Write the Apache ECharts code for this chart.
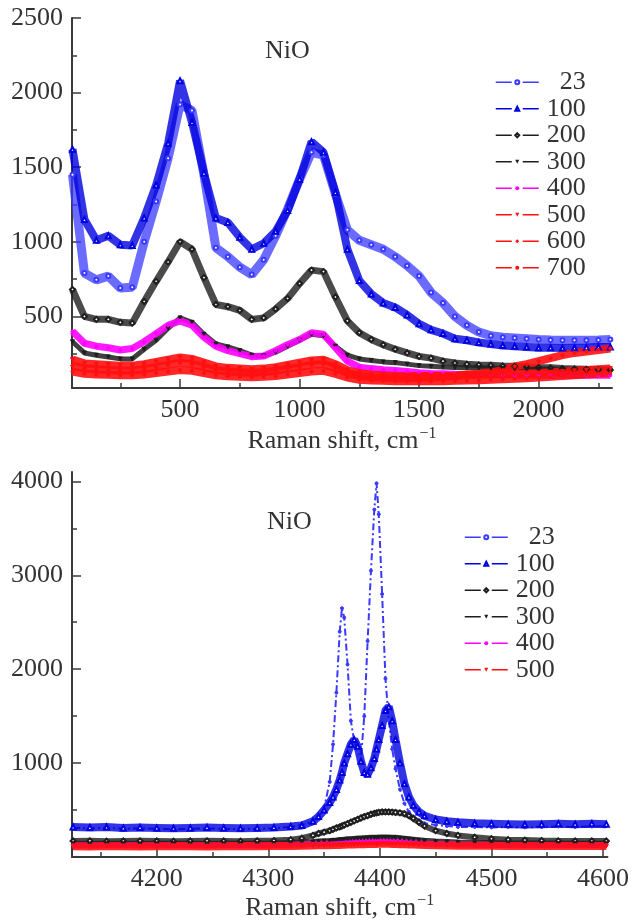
<!DOCTYPE html>
<html><head><meta charset="utf-8">
<script src="https://cdn.jsdelivr.net/npm/echarts@6/dist/echarts.min.js"></script>
<style>html,body{margin:0;padding:0;background:#fff}#c{width:632px;height:924px}</style>
</head><body><div id="c"></div>
<script>
// ---------- data ----------
const topNames = ['23','100','200','300','400','500','600','700'];
const botNames = ['23','100','200','300','400','500'];
const topX = [50,100,150,200,250,300,350,400,450,500,550,600,650,700,750,800,850,900,950,1000,1050,1100,1150,1200,1250,1300,1350,1400,1450,1500,1550,1600,1650,1700,1750,1800,1850,1900,1950,2000,2050,2100,2150,2200,2250,2300];
const t23  = [1450,790,745,770,690,695,1000,1270,1560,1920,1880,1450,960,900,830,780,880,1040,1220,1420,1600,1580,1320,1080,1010,980,950,900,840,770,660,590,500,440,395,370,360,355,350,345,342,340,340,340,342,345];
const t100 = [1620,1150,1010,1040,980,975,1160,1380,1660,2080,1800,1460,1160,1130,1030,950,990,1070,1210,1420,1670,1600,1330,950,740,650,590,560,510,450,410,385,350,340,325,315,305,300,295,290,290,288,290,292,295,295];
const t200 = [680,500,480,480,460,455,600,735,865,1000,950,760,580,565,540,480,490,550,620,720,810,800,630,470,390,345,310,280,255,232,220,200,188,180,175,172,168,165,160,157,155,150,148,145,143,140];
const t300 = [330,255,240,228,215,215,280,340,420,490,460,380,315,295,270,240,235,260,300,340,380,370,300,240,215,205,195,190,180,170,165,160,158,156,155,153,152,150,148,147,146,145,144,143,142,140];
const t400 = [400,320,300,290,275,285,330,385,440,470,440,360,300,270,250,230,235,270,310,345,390,380,290,200,160,150,142,138,130,122,118,115,112,110,110,108,108,107,106,106,105,105,105,105,105,105];
const t500 = [210,185,180,175,170,170,180,195,210,225,215,190,165,155,150,145,150,160,175,190,205,210,180,140,120,110,105,100,100,100,100,100,102,105,108,110,112,115,118,120,125,130,135,140,145,150];
const t600 = [170,150,145,140,138,138,145,160,175,190,180,160,140,130,125,122,125,135,150,160,175,180,155,120,100,92,88,85,85,88,90,95,100,110,115,125,140,165,180,200,220,240,255,265,275,285];
const t700 = [130,115,110,108,105,105,110,120,130,140,135,120,105,98,95,92,95,100,110,120,130,135,115,90,75,70,68,66,65,65,65,66,68,70,72,75,78,82,86,90,95,100,105,110,115,120];

const botX = [4125,4140,4155,4170,4185,4200,4215,4230,4245,4260,4275,4290,4305,4320,4330,4340,4345,4350,4355,4358,4361,4364,4366,4368,4371,4374,4377,4380,4383,4386,4389,4392,4395,4397,4399,4402,4405,4408,4411,4414,4418,4422,4426,4430,4435,4440,4450,4460,4470,4485,4500,4515,4530,4545,4560,4575,4590,4603];
const b23  = [310,305,310,300,305,300,295,300,305,300,295,300,305,320,340,380,430,520,800,1200,1750,2400,2650,2550,2050,1450,1230,1120,1050,1500,2300,3050,3700,3980,3650,2800,1900,1450,1150,940,720,570,480,430,390,360,340,330,320,320,315,320,315,320,325,320,325,330];
const b100 = [320,315,320,310,315,310,305,310,315,310,305,310,315,325,335,380,430,500,580,640,720,820,900,1000,1100,1200,1250,1180,1020,900,880,950,1050,1150,1250,1400,1560,1600,1450,1250,1000,780,640,550,480,440,400,380,370,360,355,350,345,350,355,350,355,350];
const b200 = [170,172,168,170,172,170,168,170,172,170,168,172,175,185,200,230,250,265,280,295,310,320,330,340,355,370,385,400,415,430,440,455,465,470,475,480,480,480,478,475,470,460,440,410,370,330,280,250,230,210,195,185,180,175,172,170,170,170];
const b300 = [140,138,142,140,138,140,142,140,138,140,142,140,142,148,155,160,165,168,170,173,176,180,182,185,188,190,193,196,198,200,202,204,205,206,207,208,208,207,206,204,200,195,190,185,178,172,165,160,155,150,148,145,145,143,142,142,140,140];
const b400 = [125,122,126,124,122,125,126,124,122,125,126,124,126,130,134,138,140,142,144,146,148,150,152,154,155,157,158,160,161,162,163,164,165,165,166,166,166,165,164,162,160,157,154,150,146,142,138,135,132,130,128,127,126,126,125,125,124,125];
const b500 = [115,112,116,114,112,115,116,114,112,115,116,114,116,118,120,122,124,125,126,127,128,129,130,131,132,133,134,135,136,137,138,138,139,139,140,140,140,140,139,138,137,136,134,132,130,128,125,123,121,120,119,118,117,117,118,117,118,118];

const topXLabels = [500,1000,1500,2000];
const topXMinor  = [250,750,1250,1750,2250];
const topYLabels = [500,1000,1500,2000,2500];
const topYMinor  = [250,750,1250,1750,2250];
const botXLabels = [4200,4300,4400,4500,4600];
const botXMinor  = [4150,4250,4350,4450,4550];
const botYLabels = [1000,2000,3000,4000];
const botYMinor  = [500,1500,2500,3500];

// ---------- style ----------
const FF = "'Liberation Serif', 'Times New Roman', 'DejaVu Serif', serif";
const TXT = '#333';
const AX = '#3a3a3a';

function mainAxis(grid, min, max, labels, isY, extra) {
  return Object.assign({
    type: 'value', gridIndex: grid, min: min, max: max,
    position: isY ? 'left' : 'bottom',
    axisLine: {show: true, onZero: false, lineStyle: {color: AX, width: 2}},
    axisTick: {show: true, inside: true, length: 9, customValues: labels, lineStyle: {color: AX, width: 1.5}},
    axisLabel: {show: true, customValues: labels, formatter: v => String(v), fontFamily: FF, fontSize: 26, color: TXT, margin: 9},
    splitLine: {show: false}
  }, extra || {});
}
function minorAxis(grid, min, max, vals, isY) {
  return {
    type: 'value', gridIndex: grid, min: min, max: max,
    position: isY ? 'left' : 'bottom',
    axisLine: {show: false, onZero: false},
    axisTick: {show: true, inside: true, length: 5, customValues: vals, lineStyle: {color: AX, width: 1.5}},
    axisLabel: {show: false},
    splitLine: {show: false}
  };
}
const axisNameStyle = {
  fontFamily: FF, fontSize: 26, color: TXT, lineHeight: 30,
  rich: {sup: {fontFamily: FF, fontSize: 16, color: TXT, lineHeight: 16, verticalAlign: 'top', padding: [0,0,0,1]}}
};
const xName = 'Raman shift, cm{sup|\u22121}';

function ser(name, xs, ys, xi, yi, color, symbol, rot, width, dash, size, op) {
  return {
    type: 'line', name: name, xAxisIndex: xi, yAxisIndex: yi,
    data: xs.map((x, i) => [x, ys[i]]),
    symbol: symbol, symbolSize: size || 4, symbolRotate: rot,
    showSymbol: true, showAllSymbol: true,
    lineStyle: {color: color, width: width, type: dash || 'solid', opacity: op || 0.85},
    itemStyle: {color: color, borderColor: color},
    emphasis: {disabled: true},
    animation: false
  };
}

const C23 = '#3a3aff', C100 = '#0000e0', CBK = '#1e1e1e', CMG = '#ff00ff', CRD = '#ff0f0f';

const legendCommon = {
  orient: 'vertical', itemWidth: 43, itemHeight: 5, itemGap: 0,
  formatter: n => '{r|' + n + '}',
  textStyle: {fontFamily: FF, fontSize: 26, color: TXT, lineHeight: 26.5,
    rich: {r: {fontFamily: FF, fontSize: 26, color: TXT, width: 42, align: 'right', lineHeight: 26.5}}},
  lineStyle: {width: 1.5, type: [16, 11], opacity: 1},
  selectedMode: false
};

const option = {
  backgroundColor: '#fff',
  animation: false,
  grid: [
    {left: 72, top: 18, width: 540, height: 370},
    {left: 72, top: 472, width: 538, height: 386}
  ],
  xAxis: [
    mainAxis(0, 48, 2307, topXLabels, false, {name: xName, nameLocation: 'middle', nameGap: 38, nameTextStyle: axisNameStyle}),
    minorAxis(0, 48, 2307, topXMinor, false),
    mainAxis(1, 4124, 4604, botXLabels, false, {name: xName, nameLocation: 'middle', nameGap: 36, nameTextStyle: axisNameStyle}),
    minorAxis(1, 4124, 4604, botXMinor, false)
  ],
  yAxis: [
    mainAxis(0, 20, 2500, topYLabels, true),
    minorAxis(0, 20, 2500, topYMinor, true),
    mainAxis(1, 0, 4100, botYLabels, true),
    minorAxis(1, 0, 4100, botYMinor, true)
  ],
  legend: [
    Object.assign({}, legendCommon, {left: 490, top: 64, data: topNames}),
    Object.assign({}, legendCommon, {left: 459, top: 519, data: botNames})
  ],
  graphic: [
    {type: 'text', left: 265, top: 38, style: {text: 'NiO', fontFamily: FF, fontSize: 26, fill: TXT}},
    {type: 'text', left: 267, top: 509, style: {text: 'NiO', fontFamily: FF, fontSize: 26, fill: TXT}}
  ],
  series: [
    ser('23', topX, t23, 0, 0, C23, 'emptyCircle', 0, 9, 'solid', 4, 0.75),
    ser('100', topX, t100, 0, 0, C100, 'emptyTriangle', 0, 8, 'solid', 5, 0.8),
    ser('200', topX, t200, 0, 0, CBK, 'emptyDiamond', 0, 7, 'solid', 5, 0.8),
    ser('300', topX, t300, 0, 0, CBK, 'triangle', 180, 5, 'solid', 4, 0.85),
    ser('400', topX, t400, 0, 0, CMG, 'circle', 0, 7, 'solid', 3, 0.9),
    ser('500', topX, t500, 0, 0, CRD, 'triangle', 180, 8, 'solid', 4, 0.9),
    ser('600', topX, t600, 0, 0, CRD, 'diamond', 0, 8, 'solid', 4, 0.9),
    ser('700', topX, t700, 0, 0, CRD, 'circle', 0, 8, 'solid', 3, 0.9),

    ser('23', botX, b23, 2, 2, C23, 'circle', 0, 2, [7, 3, 2, 3], 3, 1),
    ser('100', botX, b100, 2, 2, C100, 'emptyTriangle', 0, 8, 'solid', 5, 0.8),
    ser('200', botX, b200, 2, 2, CBK, 'emptyDiamond', 0, 6, 'solid', 5, 0.8),
    ser('300', botX, b300, 2, 2, CBK, 'triangle', 180, 6, 'solid', 4, 0.85),
    ser('400', botX, b400, 2, 2, CMG, 'circle', 0, 6, 'solid', 3, 0.9),
    ser('500', botX, b500, 2, 2, CRD, 'triangle', 180, 8, 'solid', 4, 0.9)
  ]
};

const chart = echarts.init(document.getElementById('c'), null, {renderer: 'canvas'});
chart.setOption(option);
</script>
</body></html>
